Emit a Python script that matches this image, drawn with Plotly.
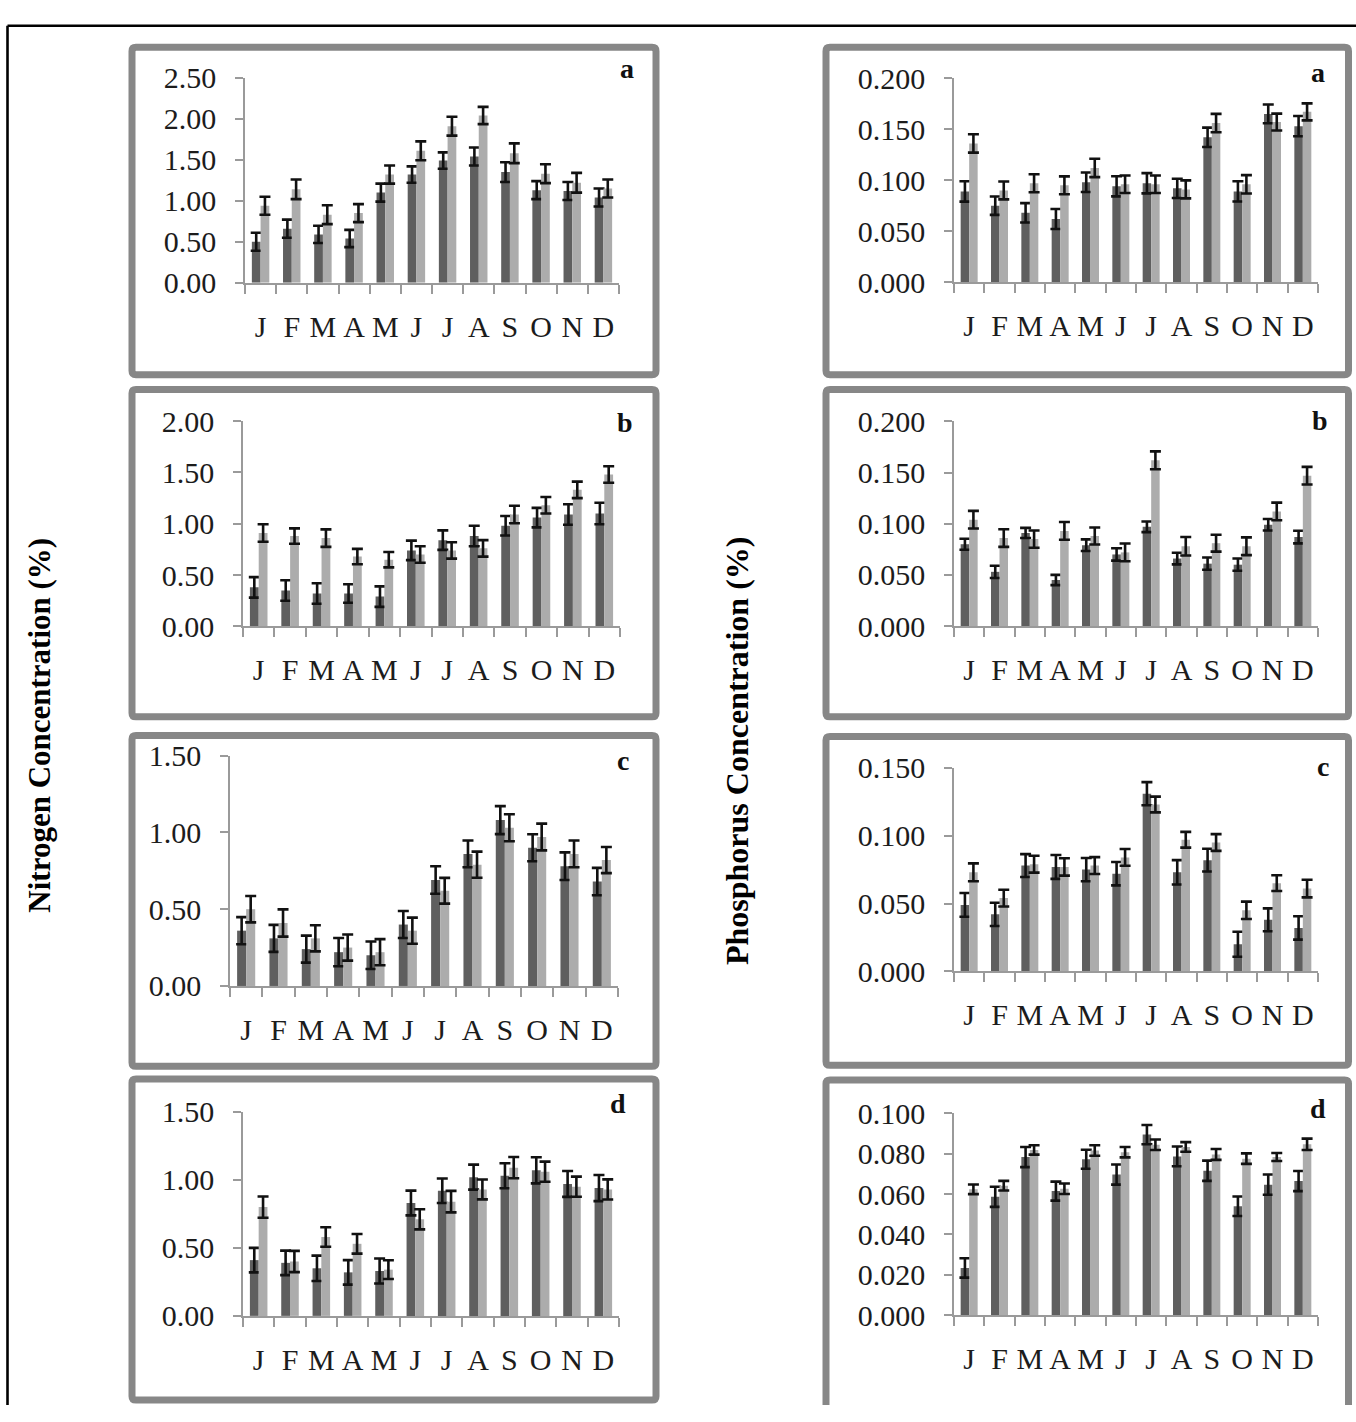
import plotly.graph_objects as go

# Canvas size in pixels
W, H = 1356, 1422

months = ["Jan", "Feb", "Mar", "Apr", "May", "Jun",
          "Jul", "Aug", "Sep", "Oct", "Nov", "Dec"]
month_ticks = ["J", "F", "M", "A", "M", "J", "J", "A", "S", "O", "N", "D"]

# Nitrogen (%) - panel a
n_a_dark = [0.50, 0.66, 0.59, 0.54, 1.10, 1.32, 1.49, 1.54, 1.35, 1.13, 1.12, 1.04]
n_a_dark_err = [0.11, 0.11, 0.105, 0.105, 0.11, 0.10, 0.10, 0.11, 0.12, 0.11, 0.11, 0.11]
n_a_light = [0.94, 1.14, 0.83, 0.85, 1.32, 1.61, 1.91, 2.04, 1.58, 1.33, 1.22, 1.15]
n_a_light_err = [0.11, 0.12, 0.115, 0.11, 0.11, 0.115, 0.115, 0.105, 0.12, 0.115, 0.12, 0.11]

# Nitrogen (%) - panel b
n_b_dark = [0.38, 0.35, 0.32, 0.32, 0.29, 0.74, 0.84, 0.88, 0.98, 1.06, 1.09, 1.10]
n_b_dark_err = [0.10, 0.10, 0.10, 0.09, 0.10, 0.095, 0.095, 0.10, 0.095, 0.095, 0.10, 0.105]
n_b_light = [0.91, 0.88, 0.86, 0.68, 0.65, 0.70, 0.74, 0.76, 1.09, 1.18, 1.33, 1.48]
n_b_light_err = [0.085, 0.075, 0.085, 0.075, 0.075, 0.08, 0.08, 0.08, 0.085, 0.08, 0.08, 0.08]

# Nitrogen (%) - panel c
n_c_dark = [0.36, 0.31, 0.24, 0.22, 0.20, 0.40, 0.69, 0.86, 1.08, 0.90, 0.78, 0.68]
n_c_dark_err = [0.088, 0.088, 0.088, 0.092, 0.09, 0.088, 0.09, 0.087, 0.091, 0.088, 0.09, 0.089]
n_c_light = [0.50, 0.41, 0.31, 0.25, 0.22, 0.36, 0.62, 0.79, 1.03, 0.97, 0.86, 0.82]
n_c_light_err = [0.086, 0.089, 0.085, 0.085, 0.085, 0.085, 0.084, 0.085, 0.088, 0.087, 0.087, 0.085]

# Nitrogen (%) - panel d
n_d_dark = [0.41, 0.39, 0.35, 0.32, 0.33, 0.83, 0.92, 1.02, 1.03, 1.07, 0.97, 0.94]
n_d_dark_err = [0.09, 0.09, 0.093, 0.09, 0.092, 0.091, 0.09, 0.092, 0.092, 0.096, 0.095, 0.096]
n_d_light = [0.80, 0.40, 0.58, 0.53, 0.34, 0.71, 0.84, 0.93, 1.09, 1.06, 0.95, 0.93]
n_d_light_err = [0.078, 0.078, 0.072, 0.072, 0.069, 0.074, 0.079, 0.073, 0.078, 0.074, 0.074, 0.074]

# Phosphorus (%) - panel a
p_a_dark = [0.089, 0.075, 0.068, 0.062, 0.098, 0.094, 0.097, 0.092, 0.142, 0.089, 0.165, 0.153]
p_a_dark_err = [0.010, 0.009, 0.0095, 0.0098, 0.0095, 0.0099, 0.0099, 0.0094, 0.0095, 0.0099, 0.0092, 0.0099]
p_a_light = [0.136, 0.090, 0.097, 0.095, 0.112, 0.096, 0.096, 0.091, 0.156, 0.096, 0.157, 0.167]
p_a_light_err = [0.009, 0.0088, 0.0088, 0.0088, 0.009, 0.0086, 0.0086, 0.0088, 0.009, 0.009, 0.0083, 0.0083]

# Phosphorus (%) - panel b
p_b_dark = [0.080, 0.053, 0.091, 0.045, 0.079, 0.070, 0.097, 0.066, 0.061, 0.060, 0.099, 0.087]
p_b_dark_err = [0.0054, 0.006, 0.005, 0.005, 0.0057, 0.006, 0.0052, 0.0057, 0.006, 0.006, 0.0056, 0.0062]
p_b_light = [0.104, 0.086, 0.085, 0.093, 0.088, 0.072, 0.162, 0.078, 0.081, 0.078, 0.112, 0.147]
p_b_light_err = [0.0086, 0.0086, 0.0084, 0.0087, 0.0083, 0.0087, 0.0087, 0.009, 0.0083, 0.0087, 0.0086, 0.0086]

# Phosphorus (%) - panel c
p_c_dark = [0.049, 0.042, 0.078, 0.077, 0.075, 0.072, 0.131, 0.073, 0.082, 0.020, 0.038, 0.032]
p_c_dark_err = [0.0088, 0.0086, 0.0084, 0.0088, 0.0086, 0.0086, 0.0085, 0.009, 0.0084, 0.0092, 0.0084, 0.0086]
p_c_light = [0.073, 0.054, 0.079, 0.077, 0.078, 0.084, 0.123, 0.097, 0.095, 0.045, 0.065, 0.061]
p_c_light_err = [0.0066, 0.0062, 0.0062, 0.0064, 0.0062, 0.0062, 0.0058, 0.0058, 0.0062, 0.0064, 0.0058, 0.0065]

# Phosphorus (%) - panel d
p_d_dark = [0.0234, 0.0587, 0.0784, 0.0615, 0.0773, 0.0697, 0.0895, 0.0787, 0.0716, 0.0540, 0.0647, 0.0665]
p_d_dark_err = [0.0048, 0.005, 0.005, 0.0047, 0.0047, 0.005, 0.0048, 0.0049, 0.005, 0.0048, 0.005, 0.005]
p_d_light = [0.0624, 0.0642, 0.0819, 0.0627, 0.0816, 0.0808, 0.0845, 0.0834, 0.0797, 0.0776, 0.0784, 0.0847]
p_d_light_err = [0.0024, 0.0024, 0.0023, 0.0026, 0.0026, 0.0026, 0.0026, 0.0024, 0.0027, 0.0026, 0.002, 0.0028]

DARK = "#5f5f5f"
LIGHT = "#acacac"
AXIS = "#9a9a9a"
BOX = "#878787"
TEXT = "#1c1c1c"
SERIF = "Liberation Serif, Times New Roman, serif"


def fx(px):
    return px / W


def fy(py):
    return 1 - py / H


# (letter, plot area x0,x1,y_top,y_zero in px, ymax, dtick, tick format,
#  dark, dark err, light, light err, letter position px)
panels = [
    ("a", (245, 619, 62.3, 272.3), 2.5, 0.5, ".2f",
     n_a_dark, n_a_dark_err, n_a_light, n_a_light_err, (627, 53)),
    ("a", (954, 1318, 62.7, 271.7), 0.2, 0.05, ".3f",
     p_a_dark, p_a_dark_err, p_a_light, p_a_light_err, (1318, 57)),
    ("b", (243, 620, 414, 624.3), 2.0, 0.5, ".2f",
     n_b_dark, n_b_dark_err, n_b_light, n_b_light_err, (625, 415)),
    ("b", (954, 1318, 414.3, 624), 0.2, 0.05, ".3f",
     p_b_dark, p_b_dark_err, p_b_light, p_b_light_err, (1320, 413)),
    ("c", (230, 618, 756.7, 992.7), 1.5, 0.5, ".2f",
     n_c_dark, n_c_dark_err, n_c_light, n_c_light_err, (623, 762)),
    ("c", (954, 1318, 769.3, 977.7), 0.15, 0.05, ".3f",
     p_c_dark, p_c_dark_err, p_c_light, p_c_light_err, (1323, 768)),
    ("d", (243, 619, 1121.7, 1330.7), 1.5, 0.5, ".2f",
     n_d_dark, n_d_dark_err, n_d_light, n_d_light_err, (618, 1113)),
    ("d", (954, 1318, 1123.3, 1330), 0.1, 0.02, ".3f",
     p_d_dark, p_d_dark_err, p_d_light, p_d_light_err, (1318, 1118)),
]

fig = go.Figure()
layout_axes = {}
annotations = []

for i, (letter, (x0, x1, yt, yz), ymax, dtick, fmt,
        dark, dark_err, light, light_err, (lx, ly)) in enumerate(panels, start=1):
    xa = "x" if i == 1 else f"x{i}"
    ya = "y" if i == 1 else f"y{i}"
    for vals, errs, color, grp in ((dark, dark_err, DARK, "dark"),
                                   (light, light_err, LIGHT, "light")):
        fig.add_trace(go.Bar(
            x=months, y=vals, xaxis=xa, yaxis=ya,
            marker=dict(color=color, line=dict(width=0)),
            offsetgroup=grp, showlegend=False,
            error_y=dict(type="data", array=errs, visible=True,
                         color="#111111", thickness=2.6, width=5.5),
        ))
    xkey = "xaxis" if i == 1 else f"xaxis{i}"
    ykey = "yaxis" if i == 1 else f"yaxis{i}"
    layout_axes[xkey] = dict(
        domain=[fx(x0), fx(x1)], anchor=ya, type="category",
        categoryorder="array", categoryarray=months,
        tickmode="array", tickvals=months, ticktext=month_ticks,
        tickson="boundaries", ticks="outside", ticklen=9, tickwidth=1.5,
        tickcolor=AXIS, showline=True, linecolor=AXIS, linewidth=1.5,
        showgrid=False, range=[-0.5, 11.5], ticklabelstandoff=16,
        tickangle=0,
        tickfont=dict(family=SERIF, size=30, color=TEXT), fixedrange=True,
    )
    layout_axes[ykey] = dict(
        domain=[fy(yz), fy(yt)], anchor=xa, range=[0, ymax],
        tick0=0, dtick=dtick, tickformat=fmt, ticks="outside", ticklen=8,
        tickwidth=1.5, tickcolor=AXIS, showline=True, linecolor=AXIS,
        linewidth=1.5, showgrid=False, zeroline=False,
        ticklabelstandoff=13,
        tickfont=dict(family=SERIF, size=30, color=TEXT), fixedrange=True,
    )
    annotations.append(dict(
        text=f"<b>{letter}</b>", xref="paper", yref="paper",
        x=fx(lx), y=fy(ly), xanchor="center", yanchor="middle",
        showarrow=False, font=dict(family=SERIF, size=28, color="#111111"),
    ))

annotations.append(dict(
    text="<b>Nitrogen Concentration (%)</b>", xref="paper", yref="paper",
    x=fx(40), y=fy(726), xanchor="center", yanchor="middle", textangle=-90,
    showarrow=False, font=dict(family=SERIF, size=31, color="#000000"),
))
annotations.append(dict(
    text="<b>Phosphorus Concentration (%)</b>", xref="paper", yref="paper",
    x=fx(737), y=fy(752), xanchor="center", yanchor="middle", textangle=-90,
    showarrow=False, font=dict(family=SERIF, size=32, color="#000000"),
))


def rounded_box(x0, y0, x1, y1, r=4, open_bottom=False):
    """Rounded rectangle path in paper coordinates from pixel corners."""
    if open_bottom:
        pts = [
            f"M {fx(x0)},{fy(y1)}",
            f"L {fx(x0)},{fy(y0 + r)}",
            f"Q {fx(x0)},{fy(y0)} {fx(x0 + r)},{fy(y0)}",
            f"L {fx(x1 - r)},{fy(y0)}",
            f"Q {fx(x1)},{fy(y0)} {fx(x1)},{fy(y0 + r)}",
            f"L {fx(x1)},{fy(y1)}",
        ]
        return " ".join(pts)
    pts = [
        f"M {fx(x0 + r)},{fy(y0)}",
        f"L {fx(x1 - r)},{fy(y0)}",
        f"Q {fx(x1)},{fy(y0)} {fx(x1)},{fy(y0 + r)}",
        f"L {fx(x1)},{fy(y1 - r)}",
        f"Q {fx(x1)},{fy(y1)} {fx(x1 - r)},{fy(y1)}",
        f"L {fx(x0 + r)},{fy(y1)}",
        f"Q {fx(x0)},{fy(y1)} {fx(x0)},{fy(y1 - r)}",
        f"L {fx(x0)},{fy(y0 + r)}",
        f"Q {fx(x0)},{fy(y0)} {fx(x0 + r)},{fy(y0)}",
        "Z",
    ]
    return " ".join(pts)


# Gray frames around each panel (pixel centre lines of the strokes)
boxes = [
    (132, 31, 656, 366.5, False), (826, 31, 1348.5, 366.5, False),
    (132, 381.5, 656, 717, False), (826, 381.5, 1348.5, 717, False),
    (132, 736, 656, 1075, False), (826, 737, 1348.5, 1074, False),
    (132, 1088, 656, 1417, False), (826, 1089, 1348.5, 1422, True),
]
shapes = [
    dict(type="path", path=rounded_box(x0, y0, x1, y1, open_bottom=ob),
         xref="paper", yref="paper",
         line=dict(color=BOX, width=7), fillcolor="rgba(0,0,0,0)", layer="below")
    for (x0, y0, x1, y1, ob) in boxes
]
# Outer black frame: top and left edges lie inside the canvas
shapes.append(dict(type="line", xref="paper", yref="paper",
                   x0=fx(7.5), y0=fy(9), x1=1, y1=fy(9),
                   line=dict(color="#000000", width=2.6), layer="above"))
shapes.append(dict(type="line", xref="paper", yref="paper",
                   x0=fx(7.5), y0=fy(9), x1=fx(7.5), y1=0,
                   line=dict(color="#000000", width=2.6), layer="above"))

fig.update_layout(
    width=W, height=H, margin=dict(l=0, r=0, t=0, b=0),
    paper_bgcolor="white", plot_bgcolor="rgba(0,0,0,0)",
    barmode="group", bargap=0.44, bargroupgap=0.0,
    showlegend=False, annotations=annotations, shapes=shapes,
    **layout_axes,
)

fig.write_html("out.html", config={"displayModeBar": False})
